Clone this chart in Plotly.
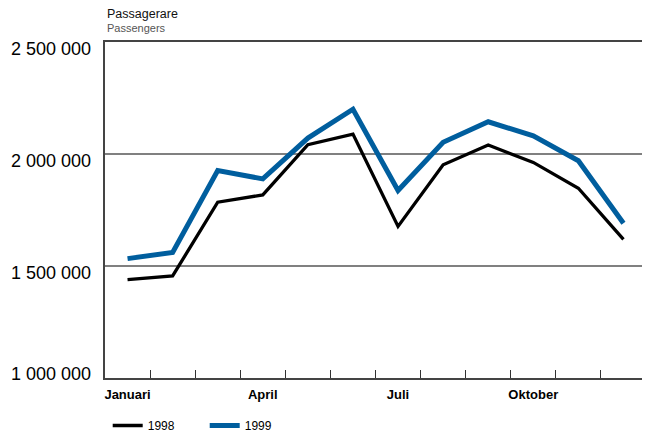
import plotly.graph_objects as go

months = ["Januari", "Februari", "Mars", "April", "Maj", "Juni",
          "Juli", "Augusti", "September", "Oktober", "November", "December"]
pass_1998 = [1439600, 1455600, 1784700, 1817600, 2041400, 2089000,
             1676600, 1952000, 2040000, 1962600, 1847000, 1619000]
pass_1999 = [1533000, 1560000, 1926000, 1889000, 2071000, 2200000,
             1837000, 2052000, 2144000, 2081000, 1970000, 1691000]
y_ticks = [1000000, 1500000, 2000000, 2500000]
y_tick_text = ["1 000 000", "1 500 000", "2 000 000", "2 500 000"]

x = list(range(len(months)))
font = "Liberation Sans, Arial, sans-serif"

# page body has an 8px default margin, so the figure is sized/offset to fit
W, H = 642, 424
ML, MR, MT, MB = 97, 4, 34, 54
plot_bottom, plot_h = H - MB, H - MT - MB

fig = go.Figure()
fig.add_trace(go.Scatter(x=x, y=pass_1998, mode="lines", name="1998",
                         line=dict(color="#000000", width=3.3)))
fig.add_trace(go.Scatter(x=x, y=pass_1999, mode="lines", name="1999",
                         line=dict(color="#005E9E", width=5)))

fig.update_layout(
    width=W, height=H,
    margin=dict(l=ML, r=MR, t=MT, b=MB, autoexpand=False),
    paper_bgcolor="white", plot_bgcolor="white",
    font=dict(family=font, color="black"),
    showlegend=True,
    legend=dict(orientation="h", x=0.005, xanchor="left", xref="paper",
                y=(H - 417.5) / H, yanchor="middle", yref="container",
                font=dict(size=12, family=font), entrywidth=52, entrywidthmode="pixels",
                bgcolor="rgba(0,0,0,0)", tracegroupgap=0),
    xaxis=dict(range=[-0.5, 11.5], tickvals=x[0::3], ticktext=months[0::3],
               ticks="", showgrid=False, zeroline=False, automargin=False,
               showline=True, linecolor="#444", linewidth=2, mirror=True,
               ticklabelstandoff=3,
               tickfont=dict(size=13, family=font, weight="bold"),
               minor=dict(tickvals=[i + 0.5 for i in x[:-1]], ticks="inside",
                          ticklen=8, tickcolor="#333", tickwidth=1, showgrid=False),
               fixedrange=True),
    yaxis=dict(range=[y_ticks[0], y_ticks[-1]], tickvals=y_ticks,
               showticklabels=False,
               showgrid=True, gridcolor="#808080", gridwidth=1.5, zeroline=False,
               showline=True, linecolor="#444", linewidth=2, mirror=True,
               ticks="", automargin=False, fixedrange=True),
)

for v, t in zip(y_ticks, y_tick_text):
    fig.add_annotation(text=t, xref="paper", yref="y", x=0, y=v,
                       xanchor="right", yanchor="middle", xshift=-12,
                       yshift=4 if v == y_ticks[0] else -7, showarrow=False,
                       font=dict(size=18, family=font, color="black"))

fig.add_annotation(text="Passagerare", xref="paper", yref="paper", x=0,
                   y=(plot_bottom - 6.5) / plot_h,
                   xanchor="left", yanchor="middle", showarrow=False,
                   font=dict(size=12.5, family=font, color="#111"))
fig.add_annotation(text="Passengers", xref="paper", yref="paper", x=0,
                   y=(plot_bottom - 19.5) / plot_h,
                   xanchor="left", yanchor="middle", showarrow=False,
                   font=dict(size=11, family=font, color="#555"))

fig.write_html("out.html")
